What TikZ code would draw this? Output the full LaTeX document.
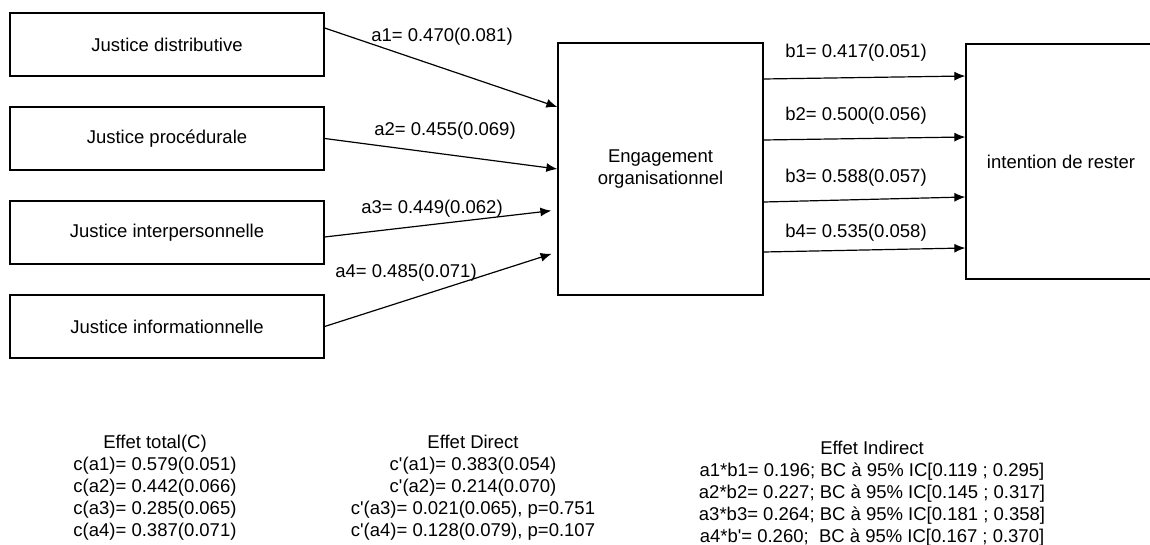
\documentclass[tikz,border=0pt]{standalone}
\usepackage{fontspec}
\setmainfont{Liberation Sans}
\usetikzlibrary{arrows.meta}
\begin{document}
\begin{tikzpicture}
	[
		x=1pt, y=-1pt,
		font=\fontsize{18.5}{22}\selectfont,
		Arrow/.style={draw, line width=1.2pt, -{Latex[length=11pt,width=9pt]}}
	]
	\tikzstyle{Box} = [rectangle, minimum width=314pt, minimum height=63pt, text centered, draw=black, line width=1.3pt]
	\tikzstyle{Coef} = [inner sep=0pt]
	\tikzstyle{Effet} = [align=center, inner sep=0pt]
	\useasboundingbox (0,0) rectangle (1150,545);
	% variables
	\node [Box] (dist) at (167,44.5) {Justice distributive};
	\node [Box] (proc) at (167,138.5) {Justice procédurale};
	\node [Box] (inter) at (167,232.5) {Justice interpersonnelle};
	\node [Box] (info) at (167,326.5) {Justice informationnelle};
	\node [Box, minimum width=205pt, minimum height=252pt, align=center] (eng) at (660.5,169) {Engagement\\organisationnel};
	\node [Box, minimum width=190pt, minimum height=235pt] (int) at (1061,161.5) {intention de rester};
	% chemins a
	\draw [Arrow] ([yshift=16.5pt]dist.east) -- ([yshift=62pt]eng.west);
	\draw [Arrow] (proc.east) -- ([yshift=0pt]eng.west);
	\draw [Arrow, shorten >=6pt] ([yshift=-4.5pt]inter.east) -- ([yshift=-41pt]eng.west);
	\draw [Arrow, shorten >=6pt] (info.east) -- ([yshift=-83pt]eng.west);
	\node [Coef] (a1) at (442,37) {a1= 0.470(0.081)};
	\node [Coef] (a2) at (445,131) {a2= 0.455(0.069)};
	\node [Coef] (a3) at (432,209) {a3= 0.449(0.062)};
	\node [Coef] (a4) at (406,273) {a4= 0.485(0.071)};
	% chemins b
	\draw [Arrow] ([yshift=90pt]eng.east) -- ([yshift=85.5pt]int.west);
	\draw [Arrow] ([yshift=29pt]eng.east) -- ([yshift=24.5pt]int.west);
	\draw [Arrow] ([yshift=-33pt]eng.east) -- ([yshift=-35.5pt]int.west);
	\draw [Arrow] ([yshift=-83pt]eng.east) -- ([yshift=-86.5pt]int.west);
	\node [Coef] (b1) at (856,53) {b1= 0.417(0.051)};
	\node [Coef] (b2) at (856,116) {b2= 0.500(0.056)};
	\node [Coef] (b3) at (856,178) {b3= 0.588(0.057)};
	\node [Coef] (b4) at (856,233) {b4= 0.535(0.058)};
	% effets
	\node [Effet] (total) at (155,488) {Effet total(C)\\c(a1)= 0.579(0.051)\\c(a2)= 0.442(0.066)\\c(a3)= 0.285(0.065)\\c(a4)= 0.387(0.071)};
	\node [Effet] (direct) at (473,488) {Effet Direct\\c\textquotesingle(a1)= 0.383(0.054)\\c\textquotesingle(a2)= 0.214(0.070)\\c\textquotesingle(a3)= 0.021(0.065), p=0.751\\c\textquotesingle(a4)= 0.128(0.079), p=0.107};
	\node [Effet] (indirect) at (872,494) {Effet Indirect\\a1*b1= 0.196; BC à 95\% IC[0.119 ; 0.295]\\a2*b2= 0.227; BC à 95\% IC[0.145 ; 0.317]\\a3*b3= 0.264; BC à 95\% IC[0.181 ; 0.358]\\a4*b\textquotesingle= 0.260;\ \ BC à 95\% IC[0.167 ; 0.370]};
\end{tikzpicture}
\end{document}
